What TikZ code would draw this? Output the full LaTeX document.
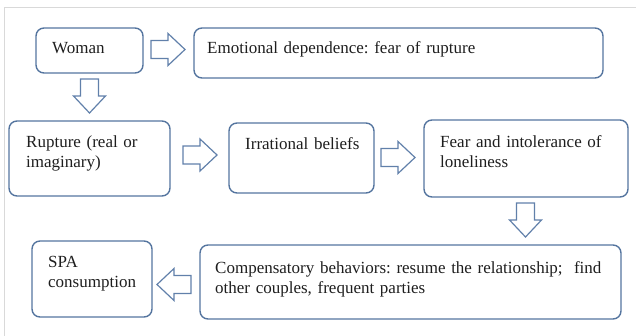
\documentclass[tikz,border=0pt]{standalone}
\usepackage{fontspec}
\setmainfont{Liberation Serif}
\usetikzlibrary{calc}
\frenchspacing
\definecolor{boxcol}{HTML}{55759F}
\definecolor{arrcol}{HTML}{6180AA}
\definecolor{framecol}{HTML}{D9D9D9}
\definecolor{txtcol}{HTML}{1E1E1E}
\tikzset{
  box/.style={draw=boxcol, line width=1.4pt, rounded corners=8pt, anchor=north west, inner sep=0pt, outer sep=0pt},
  txt/.style={anchor=base west, inner sep=0pt, text width=420pt, align=left, text=txtcol,
              font=\fontsize{17}{20}\selectfont},
  arrowline/.style={draw=arrcol, line width=1.2pt, line join=miter},
  blockarrow/.pic={\path[arrowline] (0,9)--(17,9)--(17,16)--(34,0)--(17,-16)--(17,-9)--(0,-9)--cycle;}
}
\begin{document}
\begin{tikzpicture}[x=1pt,y=-1pt]
\useasboundingbox (0,0) rectangle (636,336);
\draw[framecol, line width=1pt] (4,336) -- (4,8) -- (636,8);
% boxes
\node[box, minimum width=107pt, minimum height=45pt] (woman) at (36,28) {};
\node[box, minimum width=409pt, minimum height=50pt] (emo) at (194,28) {};
\node[box, minimum width=161pt, minimum height=75pt] (rupt) at (9,121) {};
\node[box, minimum width=145pt, minimum height=70pt] (irr) at (229,123) {};
\node[box, minimum width=204pt, minimum height=77pt] (fear) at (424,120) {};
\node[box, minimum width=421pt, minimum height=74pt] (comp) at (200,245) {};
\node[box, minimum width=120pt, minimum height=76pt] (spa) at (32,241) {};
% texts
\node[txt] (womant) at ($(woman.north west)+(16,26)$) {Woman};
\node[txt] (emot) at ($(emo.north west)+(13,26)$) {Emotional dependence: fear of rupture};
\node[txt] (ruptt) at ($(rupt.north west)+(17,27)$) {Rupture (real or\\imaginary)};
\node[txt] (irrt) at ($(irr.north west)+(16,27)$) {Irrational beliefs};
\node[txt] (feart) at ($(fear.north west)+(16,28)$) {Fear and intolerance of\\loneliness};
\node[txt] (compt) at ($(comp.north west)+(15,28)$) {Compensatory behaviors: resume the relationship;\ \ find\\other couples, frequent parties};
\node[txt] (spat) at ($(spa.north west)+(16,27)$) {SPA\\consumption};
% block arrows
\pic at (151,49.5) {blockarrow};
\pic[rotate=-90] at (89.5,79) {blockarrow};
\pic at (183,155) {blockarrow};
\pic at (381,157.5) {blockarrow};
\pic[rotate=-90] at (525.5,203) {blockarrow};
\pic[rotate=180] at (191,284.5) {blockarrow};
\end{tikzpicture}
\end{document}
